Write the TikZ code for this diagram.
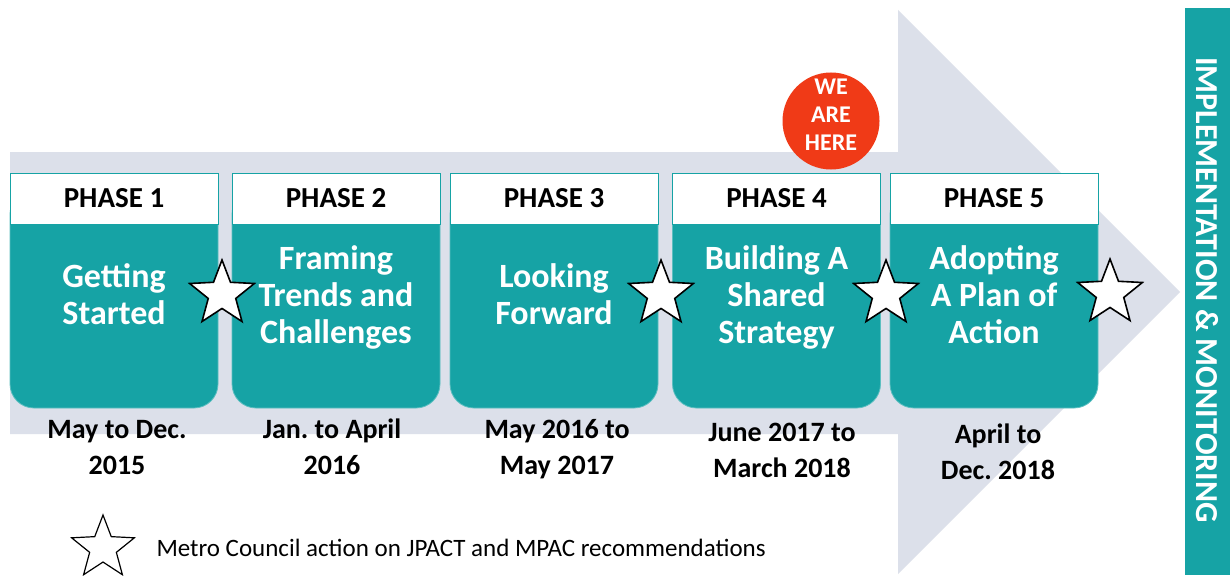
\documentclass[tikz,border=0pt]{standalone}
\usepackage{fontspec}
\setmainfont{Carlito}
\usetikzlibrary{shapes.geometric}
\frenchspacing
\definecolor{tealc}{RGB}{22,163,165}
\definecolor{bandc}{RGB}{220,224,234}
\definecolor{redc}{RGB}{240,58,23}
\tikzset{
  bodybox/.style={fill=tealc, draw=tealc!70!white, line width=0.8pt, rounded corners=24pt, minimum width=208pt, minimum height=218pt, inner sep=0pt},
  headbox/.style={fill=white, draw=tealc, line width=1pt, minimum width=208pt, minimum height=51pt, inner sep=0pt, font=\fontsize{29}{34}\selectfont\bfseries},
  bodytext/.style={text=white, align=center, inner sep=0pt, font=\fontsize{34}{37}\selectfont\bfseries},
  datetext/.style={text=black, align=center, inner sep=0pt, font=\fontsize{28}{36}\selectfont\bfseries},
  starmark/.style={star, star points=5, star point ratio=2.35, minimum size=68pt, inner sep=0pt, draw=black, line width=1.6pt, fill=white},
}
\begin{document}
\begin{tikzpicture}[x=1pt,y=-1pt]
\useasboundingbox (0,0) rectangle (1230,575);
\fill[white] (0,0) rectangle (1230,575);
% big arrow
\fill[bandc] (10,152) -- (898,152) -- (898,10) -- (1180,292) -- (898,574) -- (898,434) -- (10,434) -- cycle;
% right bar
\node[fill=tealc, minimum width=46pt, minimum height=567pt, inner sep=0pt] (bar) at (1207.5,291.5) {};
\node[rotate=-90, text=white, font=\fontsize{32}{36}\selectfont\bfseries] (bartext) at (1207,290) {IMPLEMENTATION \& MONITORING};
% phases
\foreach \i/\cx/\body in {
  1/114/{\strut Getting\\\strut Started},
  2/336/{\strut Framing\\\strut Trends and\\\strut Challenges},
  3/554/{\strut Looking\\\strut Forward},
  4/776.5/{\strut Building A\\\strut Shared\\\strut Strategy},
  5/994/{\strut Adopting\\\strut A Plan of\\\strut Action}}{
  \node[bodybox] (b\i) at (\cx,299) {};
  \node[headbox] (h\i) at (\cx,198.5) {PHASE \i};
  \node[bodytext] (t\i) at (\cx,299) {\body};
}
\node[datetext] (d1) at (117,449.5) {\strut May to Dec.\\\strut 2015};
\node[datetext] (d2) at (332,449.5) {\strut Jan. to April\\\strut 2016};
\node[datetext] (d3) at (557,449.5) {\strut May 2016 to\\\strut May 2017};
\node[datetext] (d4) at (782,452.5) {\strut June 2017 to\\\strut March 2018};
\node[datetext] (d5) at (998,454.5) {\strut April to\\\strut Dec. 2018};
% stars
\node[starmark] (s1) at (222,294) {};
\node[starmark] (s2) at (661,294) {};
\node[starmark] (s3) at (886,294) {};
\node[starmark] (s4) at (1110,293) {};
% we are here
\node[circle, fill=redc, minimum size=97pt, inner sep=0pt] (here) at (831,121) {};
\node[text=white, align=center, font=\fontsize{24}{28}\selectfont\bfseries] (heretext) at (831,115) {WE\\ARE\\HERE};
% legend
\node[starmark, line width=1.2pt, minimum size=66pt] (ls) at (103,548) {};
\node[anchor=west, font=\fontsize{25}{30}\selectfont] (lt) at (153,548) {Metro Council action on JPACT and MPAC recommendations};
\end{tikzpicture}
\end{document}
